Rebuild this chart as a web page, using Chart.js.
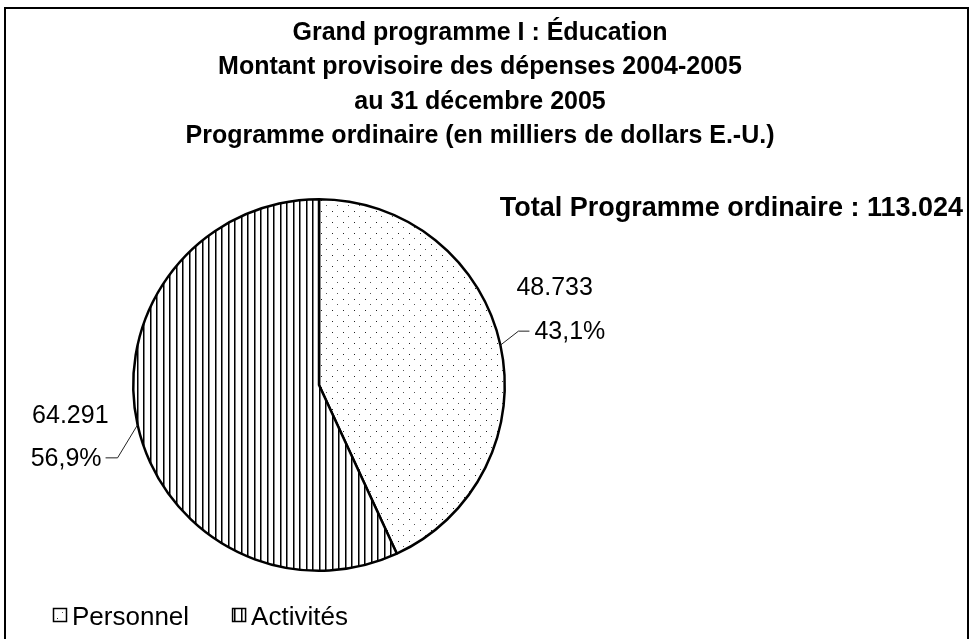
<!DOCTYPE html>
<html>
<head>
<meta charset="utf-8">
<script src="https://cdn.jsdelivr.net/npm/chart.js@4.4.1/dist/chart.umd.min.js"></script>
<style>
  html, body { margin: 0; padding: 0; background: #ffffff; }
  #wrap { width: 972px; height: 639px; position: relative; }
</style>
</head>
<body>
<div id="wrap"><canvas id="chart" width="972" height="639"></canvas></div>
<script>
// Chart content
const titleLines = [
  'Grand programme I : Éducation',
  'Montant provisoire des dépenses 2004-2005',
  'au 31 décembre 2005',
  'Programme ordinaire (en milliers de dollars E.-U.)'
];
const totalCaption = 'Total Programme ordinaire : ';
const categories = ['Personnel', 'Activités'];
const amounts = [48733, 64291];
const shares = [43.1, 56.9];

const FONT = '"Liberation Sans", Arial, sans-serif';

// Number formatting: dot as thousands separator, comma as decimal mark
const fmtThousands = v => v.toString().replace(/\B(?=(\d{3})+(?!\d))/g, '.');
const fmtPercent = v => v.toFixed(1).replace('.', ',') + '%';

// Fill patterns: fine dots for the first slice, vertical hatching for the second
function makeDots() {
  const c = document.createElement('canvas');
  c.width = 11; c.height = 11;
  const g = c.getContext('2d');
  g.fillStyle = '#ffffff'; g.fillRect(0, 0, 11, 11);
  g.fillStyle = '#222222';
  g.fillRect(2, 2, 1, 1);
  g.fillStyle = '#555555';
  g.fillRect(7, 7, 1, 1);
  return g.createPattern(c, 'repeat');
}
function makeStripes() {
  const c = document.createElement('canvas');
  c.width = 13; c.height = 4;
  const g = c.getContext('2d');
  g.fillStyle = '#ffffff'; g.fillRect(0, 0, 13, 4);
  g.fillStyle = '#000000';
  g.fillRect(0, 0, 1, 4);
  g.fillRect(7, 0, 1, 4);
  g.fillStyle = '#7a7a7a';
  g.fillRect(1, 0, 1, 4);
  g.fillRect(8, 0, 1, 4);
  return g.createPattern(c, 'repeat');
}
const fills = [makeDots(), makeStripes()];

// Frame, titles, value labels with leader lines, and legend
const decorPlugin = {
  id: 'decor',
  beforeDraw(chart) {
    const ctx = chart.ctx;
    ctx.save();
    ctx.fillStyle = '#ffffff';
    ctx.fillRect(0, 0, chart.width, chart.height);
    ctx.restore();
  },
  afterDraw(chart) {
    const ctx = chart.ctx;
    ctx.save();

    // outer frame
    ctx.strokeStyle = '#000000';
    ctx.lineWidth = 2;
    ctx.strokeRect(5, 8, 963, 650);

    // title block
    ctx.fillStyle = '#000000';
    ctx.textAlign = 'center';
    ctx.textBaseline = 'alphabetic';
    ctx.font = 'bold 25px ' + FONT;
    titleLines.forEach((line, i) => ctx.fillText(line, 480, 40 + i * 34.3));

    // total
    const total = amounts.reduce((a, b) => a + b, 0);
    ctx.textAlign = 'right';
    ctx.font = 'bold 27px ' + FONT;
    ctx.fillText(totalCaption + fmtThousands(total), 963, 216);

    // value labels
    const meta = chart.getDatasetMeta(0);
    ctx.font = '25px ' + FONT;
    ctx.lineWidth = 1;
    ctx.strokeStyle = '#222222';
    meta.data.forEach((arc, i) => {
      const mid = (arc.startAngle + arc.endAngle) / 2;
      const ex = arc.x + Math.cos(mid) * arc.outerRadius;
      const ey = arc.y + Math.sin(mid) * arc.outerRadius;
      const right = Math.cos(mid) >= 0;
      let elx, ely, endx;
      if (right) {
        elx = ex + 18; ely = ey - 14; endx = elx + 11;
      } else {
        elx = ex - 20; ely = ey + 33; endx = elx - 12;
      }
      ctx.beginPath();
      ctx.moveTo(ex, ey);
      ctx.lineTo(elx, ely);
      ctx.lineTo(endx, ely);
      ctx.stroke();

      ctx.fillStyle = '#000000';
      if (right) {
        ctx.textAlign = 'left';
        ctx.fillText(fmtPercent(shares[i]), endx + 5, ely + 8);
        ctx.fillText(fmtThousands(amounts[i]), endx - 13, ely - 36);
      } else {
        ctx.textAlign = 'right';
        ctx.fillText(fmtPercent(shares[i]), endx - 4, ely + 8);
        ctx.fillText(fmtThousands(amounts[i]), endx + 3, ely - 35);
      }
    });

    // legend
    let x = 53;
    const boxY = 608, box = 14;
    ctx.font = '26px ' + FONT;
    ctx.textAlign = 'left';
    categories.forEach((name, i) => {
      ctx.fillStyle = fills[i];
      ctx.fillRect(x, boxY, box, box);
      ctx.lineWidth = 1.5;
      ctx.strokeStyle = '#000000';
      ctx.strokeRect(x + 0.5, boxY + 0.5, box - 1, box - 1);
      ctx.fillStyle = '#000000';
      const tx = x + box + 5;
      ctx.fillText(name, tx, 625);
      x = tx + ctx.measureText(name).width + 43;
    });

    ctx.restore();
  }
};

new Chart(document.getElementById('chart'), {
  type: 'pie',
  data: {
    labels: categories,
    datasets: [{
      data: amounts,
      backgroundColor: fills,
      borderColor: '#000000',
      borderWidth: 2.5,
      borderAlign: 'center'
    }]
  },
  options: {
    responsive: false,
    animation: false,
    rotation: 0,
    layout: { padding: { left: 132, right: 466, top: 198, bottom: 67 } },
    plugins: {
      legend: { display: false },
      title: { display: false },
      tooltip: { enabled: false }
    }
  },
  plugins: [decorPlugin]
});
</script>
</body>
</html>
